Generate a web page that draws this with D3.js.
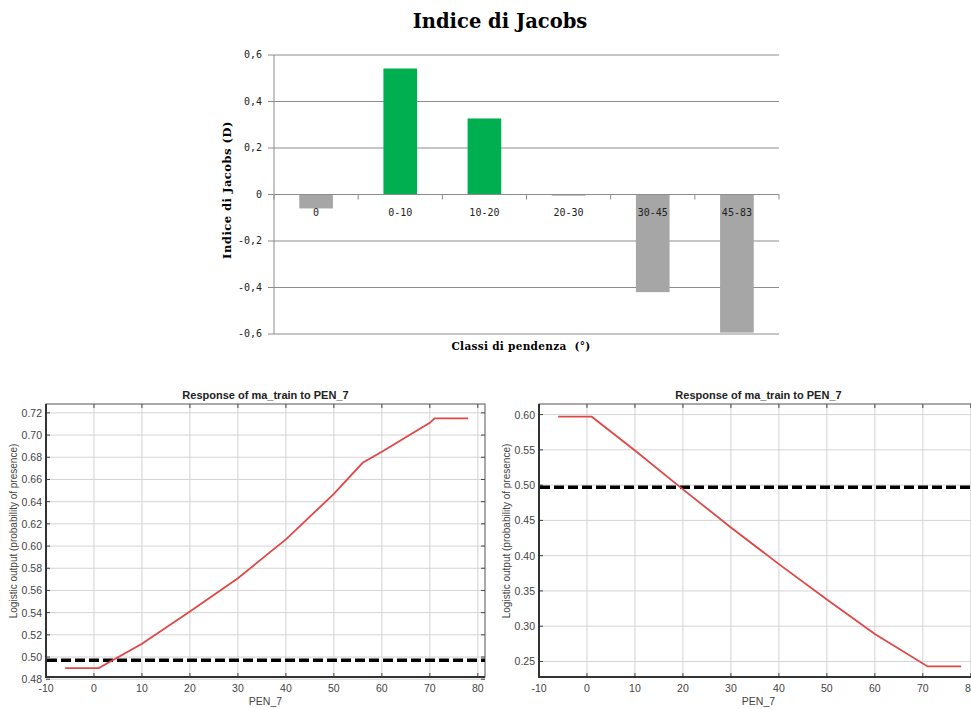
<!DOCTYPE html>
<html>
<head>
<meta charset="utf-8">
<script src="https://cdn.jsdelivr.net/npm/d3@7"></script>
<style>
  body { margin: 0; background: #fff; }
  svg { display: block; }
</style>
</head>
<body>
<script>
// Jacobs index by slope class
var categories = ["0", "0-10", "10-20", "20-30", "30-45", "45-83"];
var jacobs = [-0.06, 0.542, 0.327, -0.005, -0.42, -0.594];
var jacobsTicks = [-0.6, -0.4, -0.2, 0, 0.2, 0.4, 0.6];

// Response curves (PEN_7 -> logistic output)
var penX = [-6, 1, 10, 20, 30, 40, 50, 56, 60, 70, 71, 78];
var respLeft = [0.490, 0.490, 0.512, 0.541, 0.571, 0.606, 0.647, 0.675, 0.685, 0.711, 0.715, 0.715];
var penXRight = [-6, 1, 10, 20, 30, 40, 50, 60, 71, 78];
var respRight = [0.597, 0.597, 0.549, 0.494, 0.440, 0.388, 0.338, 0.289, 0.243, 0.243];
var threshold = [0.497, 0.497];
var xTicks = [-10, 0, 10, 20, 30, 40, 50, 60, 70, 80];
var yTicksLeft = [0.48, 0.50, 0.52, 0.54, 0.56, 0.58, 0.60, 0.62, 0.64, 0.66, 0.68, 0.70, 0.72];
var yTicksRight = [0.25, 0.30, 0.35, 0.40, 0.45, 0.50, 0.55, 0.60];

var svg = d3.select("body").append("svg")
  .attr("width", 971)
  .attr("height", 709);

// ---------- top bar chart ----------
var x = d3.scaleBand().domain(categories).range([274, 779]).paddingInner(0.6).paddingOuter(0.3);
var y = d3.scaleLinear().domain([-0.6, 0.6]).range([334, 55]);

var barG = svg.append("g");

// value gridlines (with a short tick past the axis)
barG.selectAll(".grid").data(jacobsTicks.filter(function (d) { return d != 0; }))
  .enter().append("line")
  .attr("x1", 268).attr("x2", 779)
  .attr("y1", function (d) { return y(d); })
  .attr("y2", function (d) { return y(d); })
  .attr("stroke", "#8c8c8c").attr("stroke-width", 1);

// vertical value axis
barG.append("line")
  .attr("x1", 274).attr("x2", 274)
  .attr("y1", y(0.6)).attr("y2", y(-0.6))
  .attr("stroke", "#8c8c8c");

barG.selectAll(".ylab").data(jacobsTicks)
  .enter().append("text")
  .attr("x", 262)
  .attr("y", function (d) { return y(d) + 3; })
  .attr("text-anchor", "end")
  .style("font", "10px 'DejaVu Sans Mono', monospace")
  .style("fill", "#222")
  .text(function (d) { return d == 0 ? "0" : d3.format(".1f")(d).replace(".", ",").replace("−", "-"); });

barG.selectAll(".bar").data(jacobs)
  .enter().append("rect")
  .attr("x", function (d, i) { return x(categories[i]); })
  .attr("width", x.bandwidth())
  .attr("y", function (d) { return y(Math.max(0, d)); })
  .attr("height", function (d) { return Math.abs(y(d) - y(0)); })
  .attr("fill", function (d) { return d > 0 ? "#00b050" : "#a6a6a6"; });

// zero axis with category ticks
barG.append("line")
  .attr("x1", 268).attr("x2", 779)
  .attr("y1", y(0)).attr("y2", y(0))
  .attr("stroke", "#8c8c8c");
var step = x.step();
barG.selectAll(".ctick").data(d3.range(7))
  .enter().append("line")
  .attr("x1", function (i) { return 274 + i * step; })
  .attr("x2", function (i) { return 274 + i * step; })
  .attr("y1", y(0)).attr("y2", y(0) + 5)
  .attr("stroke", "#8c8c8c");

barG.selectAll(".clab").data(categories)
  .enter().append("text")
  .attr("x", function (d) { return x(d) + x.bandwidth() / 2; })
  .attr("y", y(0) + 21)
  .attr("text-anchor", "middle")
  .style("font", "10px 'DejaVu Sans Mono', monospace")
  .style("fill", "#222")
  .text(function (d) { return d; });

barG.append("text")
  .attr("x", 500).attr("y", 28)
  .attr("text-anchor", "middle")
  .style("font", "bold 19.5px 'DejaVu Serif', serif")
  .text("Indice di Jacobs");

barG.append("text")
  .attr("transform", "translate(231,190) rotate(-90)")
  .attr("text-anchor", "middle")
  .style("font", "bold 11.5px 'DejaVu Serif', serif")
  .style("letter-spacing", "0.5px")
  .text("Indice di Jacobs (D)");

barG.append("text")
  .attr("x", 521).attr("y", 350)
  .attr("text-anchor", "middle")
  .style("font", "bold 10.5px 'DejaVu Serif', serif")
  .style("letter-spacing", "0.3px")
  .style("white-space", "pre")
  .text("Classi di pendenza  (°)");

// ---------- response plots ----------
function responsePlot(left, right, yDomain, yTicks, xs, ys, yFmt) {
  var g = svg.append("g");
  var sx = d3.scaleLinear().domain([-10, 81.5]).range([left, right]);
  var sy = d3.scaleLinear().domain(yDomain).range([677, 404]);

  g.selectAll(".vg").data(xTicks).enter().append("line")
    .attr("x1", function (d) { return sx(d); }).attr("x2", function (d) { return sx(d); })
    .attr("y1", 404).attr("y2", 677)
    .attr("stroke", "#d4d4d4");
  g.selectAll(".hg").data(yTicks).enter().append("line")
    .attr("x1", left).attr("x2", right)
    .attr("y1", function (d) { return sy(d); }).attr("y2", function (d) { return sy(d); })
    .attr("stroke", "#d4d4d4");

  // inward tick marks on all sides
  g.selectAll(".tt").data(xTicks).enter().append("line")
    .attr("x1", function (d) { return sx(d); }).attr("x2", function (d) { return sx(d); })
    .attr("y1", 404).attr("y2", 408).attr("stroke", "#444");
  g.selectAll(".bt").data(xTicks).enter().append("line")
    .attr("x1", function (d) { return sx(d); }).attr("x2", function (d) { return sx(d); })
    .attr("y1", 677).attr("y2", 673).attr("stroke", "#444");
  g.selectAll(".lt").data(yTicks).enter().append("line")
    .attr("x1", left).attr("x2", left + 4)
    .attr("y1", function (d) { return sy(d); }).attr("y2", function (d) { return sy(d); })
    .attr("stroke", "#444");
  g.selectAll(".rt").data(yTicks).enter().append("line")
    .attr("x1", right).attr("x2", right - 4)
    .attr("y1", function (d) { return sy(d); }).attr("y2", function (d) { return sy(d); })
    .attr("stroke", "#444");

  // frame
  g.append("rect")
    .attr("x", left).attr("y", 404)
    .attr("width", right - left).attr("height", 273)
    .attr("fill", "none").attr("stroke", "#555").attr("stroke-width", 1);
  g.append("line").attr("x1", left).attr("x2", left).attr("y1", 404).attr("y2", 678)
    .attr("stroke", "#333").attr("stroke-width", 2);
  g.append("line").attr("x1", left).attr("x2", right).attr("y1", 677).attr("y2", 677)
    .attr("stroke", "#333").attr("stroke-width", 2);

  g.selectAll(".xl").data(xTicks).enter().append("text")
    .attr("x", function (d) { return sx(d); }).attr("y", 692)
    .attr("text-anchor", "middle")
    .style("font", "10.5px 'Liberation Sans', Arial, sans-serif").style("fill", "#444")
    .text(function (d) { return d; });
  g.selectAll(".yl").data(yTicks).enter().append("text")
    .attr("x", left - 4).attr("y", function (d) { return sy(d) + 4; })
    .attr("text-anchor", "end")
    .style("font", "10.5px 'Liberation Sans', Arial, sans-serif").style("fill", "#444")
    .text(function (d) { return yFmt(d); });

  // threshold
  g.append("line")
    .attr("x1", left + 1).attr("x2", right)
    .attr("y1", sy(threshold[0])).attr("y2", sy(threshold[1]))
    .attr("stroke", "#000").attr("stroke-width", 3.5)
    .attr("stroke-dasharray", "10,4");

  var line = d3.line()
    .x(function (d, i) { return sx(xs[i]); })
    .y(function (d) { return sy(d); });
  g.append("path").datum(ys)
    .attr("d", line)
    .attr("fill", "none")
    .attr("stroke", "#e04848")
    .attr("stroke-width", 1.8);

  var cx = (left + right) / 2;
  g.append("text")
    .attr("x", cx).attr("y", 399)
    .attr("text-anchor", "middle")
    .style("font", "bold 11px 'Liberation Sans', Arial, sans-serif").style("fill", "#222")
    .text("Response of ma_train to PEN_7");
  g.append("text")
    .attr("x", cx).attr("y", 705)
    .attr("text-anchor", "middle")
    .style("font", "10.5px 'Liberation Sans', Arial, sans-serif").style("fill", "#444")
    .text("PEN_7");
  g.append("text")
    .attr("transform", "translate(" + (left - 29) + ",531) rotate(-90)")
    .attr("text-anchor", "middle")
    .style("font", "10px 'Liberation Sans', Arial, sans-serif").style("fill", "#444")
    .text("Logistic output (probability of presence)");
}

responsePlot(46, 485, [0.482, 0.728], yTicksLeft, penX, respLeft, d3.format(".2f"));
responsePlot(539, 978, [0.228, 0.615], yTicksRight, penXRight, respRight, d3.format(".2f"));
</script>
</body>
</html>
